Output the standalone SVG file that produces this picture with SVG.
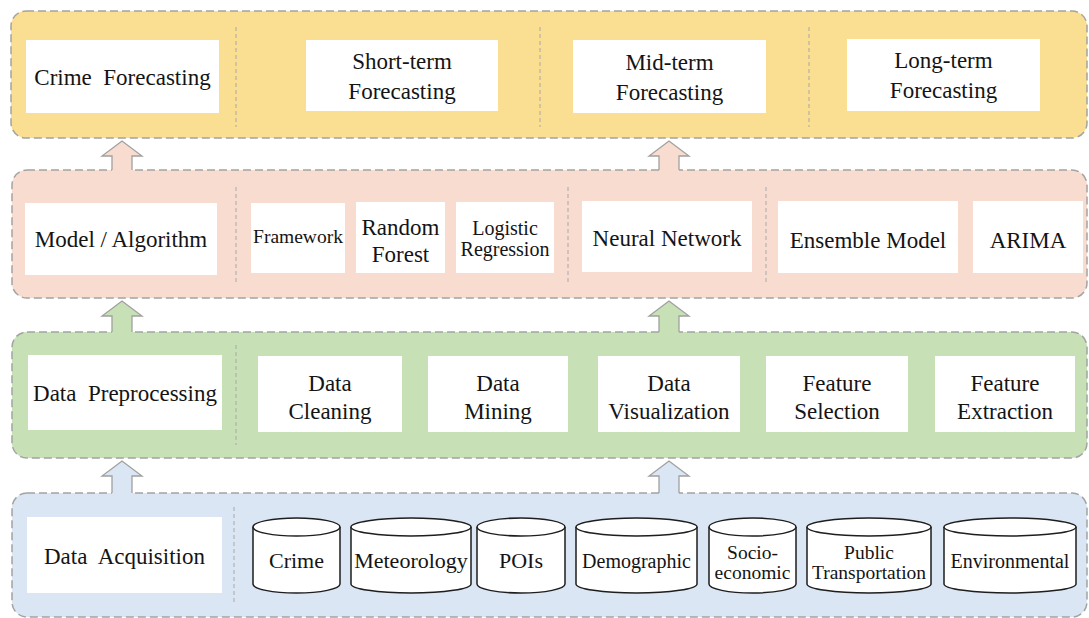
<svg xmlns="http://www.w3.org/2000/svg" width="1089" height="618" viewBox="0 0 1089 618" font-family="'Liberation Serif', 'Times New Roman', Times, serif">
  <style>
    .band { stroke: #a3a3a3; stroke-width: 1.5; stroke-dasharray: 8 4; }
    .yellow { fill: #fadf92; }
    .pink { fill: #f9dcd0; }
    .green { fill: #c7e0b5; }
    .blue { fill: #dae6f3; }
    .div { stroke: #a8a8a8; stroke-width: 1; stroke-dasharray: 4 3; fill: none; }
    .box { fill: #ffffff; }
    text { font-family: 'Liberation Serif', 'Times New Roman', Times, serif; }
    .t { font-size: 23px; fill: #141414; text-anchor: middle; }
    .s22 { font-size: 22px; }
    .s20 { font-size: 20px; }
    .s19 { font-size: 19.5px; }
    .cyl { fill: #ffffff; stroke: #1e1e1e; stroke-width: 1.5; }
    .arrow-edge { fill: none; stroke: #a0a0a0; stroke-width: 1.3; stroke-linejoin: miter; }
  </style>

  <!-- layer bands -->
  <g id="bands">
    <rect class="band yellow" x="11" y="11" width="1076" height="127" rx="15"/>
    <rect class="band pink" x="12" y="170" width="1075" height="128" rx="15"/>
    <rect class="band green" x="12" y="332" width="1075" height="126" rx="15"/>
    <rect class="band blue" x="12" y="493" width="1075" height="124" rx="15"/>
    <path class="div" d="M236 27V127M540 27V127M809 27V127"/>
    <path class="div" d="M236 187V285M568 187V285M766 187V285"/>
    <path class="div" d="M236 345V445"/>
    <path class="div" d="M234 507V605"/>
  </g>

  <!-- upward block arrows between layers -->
  <g id="connectors">
    <path class="pink" d="M122 141L142 156H132V172H112V156H102Z"/>
    <path class="arrow-edge" d="M112 170V156H102L122 141L142 156H132V170"/>
    <path class="pink" d="M669 141L689 156H679V172H659V156H649Z"/>
    <path class="arrow-edge" d="M659 170V156H649L669 141L689 156H679V170"/>

    <path class="green" d="M122 301L142 316H132V334H112V316H102Z"/>
    <path class="arrow-edge" d="M112 332V316H102L122 301L142 316H132V332"/>
    <path class="green" d="M669 301L689 316H679V334H659V316H649Z"/>
    <path class="arrow-edge" d="M659 332V316H649L669 301L689 316H679V332"/>

    <path class="blue" d="M122 461L142 476H132V495H112V476H102Z"/>
    <path class="arrow-edge" d="M112 493V476H102L122 461L142 476H132V493"/>
    <path class="blue" d="M669 461L689 476H679V495H659V476H649Z"/>
    <path class="arrow-edge" d="M659 493V476H649L669 461L689 476H679V493"/>
  </g>

  <!-- forecasting layer -->
  <g id="crime-forecasting">
    <rect class="box" x="26" y="40" width="193" height="73"/>
    <text class="t" x="122.5" y="85" xml:space="preserve">Crime  Forecasting</text>
  </g>
  <g id="short-term">
    <rect class="box" x="306" y="40" width="192" height="71"/>
    <text class="t" x="402" y="69">Short-term</text>
    <text class="t" x="402" y="99">Forecasting</text>
  </g>
  <g id="mid-term">
    <rect class="box" x="573" y="40" width="193" height="73"/>
    <text class="t" x="669.5" y="70">Mid-term</text>
    <text class="t" x="669.5" y="100">Forecasting</text>
  </g>
  <g id="long-term">
    <rect class="box" x="847" y="39" width="193" height="72"/>
    <text class="t" x="943.5" y="68">Long-term</text>
    <text class="t" x="943.5" y="98">Forecasting</text>
  </g>

  <!-- model layer -->
  <g id="model-algorithm">
    <rect class="box" x="25" y="203" width="192" height="72"/>
    <text class="t" x="121" y="247">Model / Algorithm</text>
  </g>
  <g id="framework">
    <rect class="box" x="251" y="203" width="94" height="70"/>
    <text class="t s19" x="298" y="243">Framework</text>
  </g>
  <g id="random-forest">
    <rect class="box" x="356" y="202" width="89" height="71"/>
    <text class="t" x="400.5" y="235">Random</text>
    <text class="t" x="400.5" y="262">Forest</text>
  </g>
  <g id="logistic-regression">
    <rect class="box" x="456" y="202" width="98" height="71"/>
    <text class="t s20" x="505" y="235">Logistic</text>
    <text class="t s20" x="505" y="256">Regression</text>
  </g>
  <g id="neural-network">
    <rect class="box" x="582" y="201" width="170" height="71"/>
    <text class="t" x="667" y="246">Neural Network</text>
  </g>
  <g id="ensemble-model">
    <rect class="box" x="778" y="201" width="180" height="72"/>
    <text class="t" x="868" y="248">Ensemble Model</text>
  </g>
  <g id="arima">
    <rect class="box" x="973" y="201" width="110" height="72"/>
    <text class="t" x="1028" y="248">ARIMA</text>
  </g>

  <!-- preprocessing layer -->
  <g id="data-preprocessing">
    <rect class="box" x="28" y="355" width="194" height="75"/>
    <text class="t" x="125" y="401" xml:space="preserve">Data  Preprocessing</text>
  </g>
  <g id="data-cleaning">
    <rect class="box" x="258" y="356" width="144" height="76"/>
    <text class="t" x="330" y="391">Data</text>
    <text class="t" x="330" y="419">Cleaning</text>
  </g>
  <g id="data-mining">
    <rect class="box" x="428" y="356" width="140" height="76"/>
    <text class="t" x="498" y="391">Data</text>
    <text class="t" x="498" y="419">Mining</text>
  </g>
  <g id="data-visualization">
    <rect class="box" x="598" y="356" width="142" height="76"/>
    <text class="t" x="669" y="391">Data</text>
    <text class="t" x="669" y="419">Visualization</text>
  </g>
  <g id="feature-selection">
    <rect class="box" x="766" y="356" width="142" height="76"/>
    <text class="t" x="837" y="391">Feature</text>
    <text class="t" x="837" y="419">Selection</text>
  </g>
  <g id="feature-extraction">
    <rect class="box" x="935" y="356" width="140" height="76"/>
    <text class="t" x="1005" y="391">Feature</text>
    <text class="t" x="1005" y="419">Extraction</text>
  </g>

  <!-- acquisition layer -->
  <g id="data-acquisition">
    <rect class="box" x="27" y="517" width="195" height="76"/>
    <text class="t" x="124.5" y="564" xml:space="preserve">Data  Acquisition</text>
  </g>
  <g id="db-crime">
    <path class="cyl" d="M253 527V584A43.5 9 0 0 0 340 584V527"/>
    <ellipse class="cyl" cx="296.5" cy="527" rx="43.5" ry="9"/>
    <text class="t s22" x="296.5" y="568">Crime</text>
  </g>
  <g id="db-meteorology">
    <path class="cyl" d="M351 527V584A60 9 0 0 0 471 584V527"/>
    <ellipse class="cyl" cx="411" cy="527" rx="60" ry="9"/>
    <text class="t s22" x="411" y="568">Meteorology</text>
  </g>
  <g id="db-pois">
    <path class="cyl" d="M477 527V584A44 9 0 0 0 565 584V527"/>
    <ellipse class="cyl" cx="521" cy="527" rx="44" ry="9"/>
    <text class="t s22" x="521" y="568">POIs</text>
  </g>
  <g id="db-demographic">
    <path class="cyl" d="M576 527V584A60.5 9 0 0 0 697 584V527"/>
    <ellipse class="cyl" cx="636.5" cy="527" rx="60.5" ry="9"/>
    <text class="t s20" x="636.5" y="568">Demographic</text>
  </g>
  <g id="db-socioeconomic">
    <path class="cyl" d="M709 527V584A43.5 9 0 0 0 796 584V527"/>
    <ellipse class="cyl" cx="752.5" cy="527" rx="43.5" ry="9"/>
    <text class="t s19" x="752.5" y="559">Socio-</text>
    <text class="t s19" x="752.5" y="579">economic</text>
  </g>
  <g id="db-public-transportation">
    <path class="cyl" d="M807 527V584A62 9 0 0 0 931 584V527"/>
    <ellipse class="cyl" cx="869" cy="527" rx="62" ry="9"/>
    <text class="t s19" x="869" y="559">Public</text>
    <text class="t s19" x="869" y="579">Transportation</text>
  </g>
  <g id="db-environmental">
    <path class="cyl" d="M944 527V584A66 9 0 0 0 1076 584V527"/>
    <ellipse class="cyl" cx="1010" cy="527" rx="66" ry="9"/>
    <text class="t s20" x="1010" y="568">Environmental</text>
  </g>
</svg>
